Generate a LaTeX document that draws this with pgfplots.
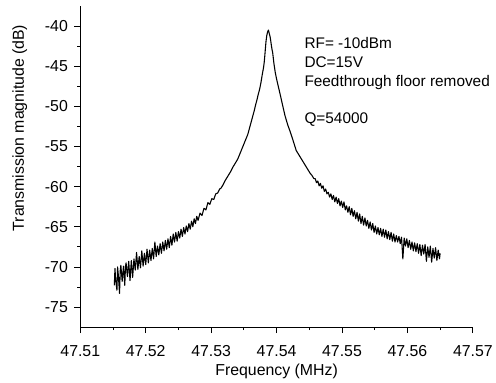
\documentclass[border=0pt]{standalone}
\usepackage{fontspec}
\setmainfont{Liberation Sans}
\usepackage{pgfplots}
\pgfplotsset{compat=1.18}
\begin{document}
\begin{tikzpicture}
% x values: frequency offset from 47.500 MHz, in kHz (47.5152 MHz -> 15.2)
\begin{axis}[
  scale only axis, width=396bp, height=324bp,
  at={(0,0)}, anchor=south west,
  xmin=10, xmax=70, ymin=-77.5, ymax=-37.5,
  axis lines=left, axis line style={-, line width=0.8pt},
  xtick={10,20,30,40,50,60,70},
  xticklabels={47.51,47.52,47.53,47.54,47.55,47.56,47.57},
  ytick={-75,-70,-65,-60,-55,-50,-45,-40},
  minor x tick num=1, minor y tick num=1,
  tick align=outside,
  major tick length=6bp, minor tick length=3bp,
  tick style={black, line width=0.8pt},
  /pgf/number format/assume math mode=true,
  tick label style={font=\fontsize{16bp}{19bp}\selectfont},
  xticklabel style={anchor=center, yshift=-18bp},
  yticklabel style={anchor=east, xshift=-3bp},
  xlabel={Frequency (MHz)}, ylabel={Transmission magnitude (dB)},
  label style={font=\fontsize{16bp}{19bp}\selectfont},
  xlabel style={at={(axis description cs:0.5,0)}, anchor=center, yshift=-45bp},
  ylabel style={at={(axis description cs:-0.154,0.62)}, anchor=center},
  clip=false,
]
\addplot[black, line width=1.1pt, mark=none, line join=round] coordinates {
(15.2,-72.3)(15.3,-70.2)(15.4,-71.6)(15.6,-72.9)(15.7,-70.0)(15.8,-70.9)(16.0,-73.3)(16.1,-70.5)(16.2,-69.8)(16.4,-71.8)(16.6,-69.9)(16.8,-72.3)(16.9,-70.0)(17.0,-69.5)(17.2,-71.2)(17.4,-69.3)
(17.6,-71.7)(17.8,-69.2)(18.0,-71.3)(18.2,-69.0)(18.4,-70.4)(18.6,-68.2)(18.8,-70.3)(19.0,-68.7)(19.2,-70.1)(19.4,-68.0)(19.6,-69.9)(19.8,-68.3)(20.0,-69.7)(20.2,-67.8)(20.4,-69.5)
(20.6,-67.9)(20.8,-69.2)(21.0,-67.7)(21.2,-69.0)(21.4,-66.9)(21.6,-68.7)(21.8,-67.4)(22.0,-68.5)(22.2,-67.1)(22.4,-68.3)(22.6,-66.9)(22.8,-68.0)(23.0,-66.7)(23.2,-67.8)(23.4,-66.5)
(23.6,-67.6)(23.8,-66.2)(24.0,-67.3)(24.2,-65.9)(24.4,-66.9)(24.6,-65.7)(24.8,-66.8)(25.0,-65.6)(25.2,-66.4)(25.4,-65.3)(25.6,-66.2)(25.8,-65.1)(26.0,-65.9)(26.2,-64.9)(26.4,-65.6)
(26.6,-64.6)(26.8,-65.3)(27.0,-64.3)(27.2,-65.0)(27.4,-64.0)(27.6,-64.6)(27.8,-63.7)(28.0,-64.2)
(28.3,-63.3)(28.6,-63.6)(28.9,-62.7)(29.2,-62.9)(29.5,-62.0)(29.8,-62.2)(30.1,-61.5)(30.4,-61.6)(30.7,-60.9)(31.0,-60.8)(31.3,-60.3)(31.5,-60.2)
(31.8,-59.8)(32.1,-59.3)(32.4,-58.9)(32.7,-58.5)(33.0,-58.1)(33.3,-57.6)(33.6,-57.2)(33.9,-56.8)(34.1,-56.5)
(34.4,-55.9)(34.7,-55.3)(35.0,-54.7)(35.3,-54.1)(35.6,-53.5)
(35.9,-52.6)(36.2,-51.7)(36.4,-51.1)(36.6,-50.5)(36.8,-49.8)(37.0,-49.2)(37.2,-48.5)(37.4,-47.9)(37.6,-47.1)(37.8,-46.1)(38.0,-45.2)(38.1,-44.6)(38.2,-43.7)(38.3,-42.7)(38.4,-41.8)(38.5,-41.2)(38.6,-40.8)(38.75,-40.5)(38.9,-41.0)(39.0,-41.3)(39.1,-41.8)(39.2,-42.4)(39.3,-42.9)(39.4,-43.3)(39.6,-44.7)(39.8,-45.8)(40.0,-46.6)(40.2,-47.3)(40.4,-48.0)(40.6,-48.7)(40.9,-49.8)(41.3,-51.2)(41.7,-52.3)(42.1,-53.2)(42.5,-54.2)(43.0,-55.5)
(43.3,-55.9)(43.6,-56.3)(43.9,-56.7)(44.2,-57.1)(44.5,-57.5)(44.8,-57.9)(45.1,-58.3)(45.4,-58.6)(45.7,-59.0)
(45.9,-59.0)(46.1,-59.5)(46.3,-59.3)(46.5,-59.9)(46.7,-59.6)(46.9,-60.2)(47.1,-59.9)(47.3,-60.6)(47.5,-60.3)(47.7,-60.9)(47.9,-60.7)(48.1,-61.3)
(48.3,-60.9)(48.5,-61.6)(48.7,-61.1)(48.9,-61.9)(49.1,-61.3)(49.3,-62.1)(49.5,-61.5)(49.7,-62.4)(49.9,-61.8)(50.1,-62.6)(50.3,-61.9)(50.5,-62.9)(50.7,-62.4)
(50.9,-63.2)(51.1,-62.5)(51.3,-63.5)(51.5,-62.7)(51.7,-63.7)(51.9,-63.0)(52.1,-64.0)(52.3,-63.2)(52.5,-64.3)(52.7,-63.4)(52.9,-64.6)(53.1,-63.7)(53.3,-64.8)
(53.5,-63.9)(53.7,-64.9)(53.9,-64.2)(54.1,-65.2)(54.3,-64.4)(54.5,-65.4)(54.7,-64.6)(54.9,-65.7)(55.1,-64.9)
(55.3,-65.9)(55.5,-65.1)(55.7,-66.0)(55.9,-65.2)(56.1,-66.2)(56.3,-65.3)(56.5,-66.3)(56.7,-65.4)(56.9,-66.5)(57.1,-65.6)(57.3,-66.6)(57.5,-65.7)(57.7,-66.8)(57.9,-65.9)(58.1,-66.9)(58.3,-66.1)
(58.5,-66.9)(58.7,-66.2)(58.9,-67.1)(59.1,-66.3)(59.3,-69.0)(59.5,-66.4)(59.7,-67.4)(59.9,-66.5)(60.1,-67.6)(60.3,-66.7)(60.5,-67.8)(60.7,-66.9)(60.9,-68.0)(61.1,-67.0)(61.3,-68.1)
(61.5,-67.1)(61.7,-68.3)(61.9,-67.2)(62.1,-68.6)(62.3,-67.3)(62.5,-68.4)(62.7,-67.2)(62.9,-69.3)(63.1,-67.5)(63.3,-68.8)(63.5,-67.4)(63.7,-69.4)(63.9,-67.7)(64.1,-68.9)(64.3,-67.6)(64.5,-69.2)(64.7,-67.9)(64.9,-69.0)(65.0,-68.3)
};
\node[anchor=base west, inner sep=0, font=\fontsize{15.5bp}{18bp}\selectfont] at (axis cs:44.24,-42.81) {RF= -10dBm};
\node[anchor=base west, inner sep=0, font=\fontsize{15.5bp}{18bp}\selectfont] at (axis cs:44.24,-45.15) {DC=15V};
\node[anchor=base west, inner sep=0, font=\fontsize{15.5bp}{18bp}\selectfont] at (axis cs:44.24,-47.50) {Feedthrough floor removed};
\node[anchor=base west, inner sep=0, font=\fontsize{15.5bp}{18bp}\selectfont] at (axis cs:44.24,-52.19) {Q=54000};
\end{axis}
\path[use as bounding box] (-81bp,-55bp) rectangle (415bp,330bp);
\end{tikzpicture}
\end{document}
